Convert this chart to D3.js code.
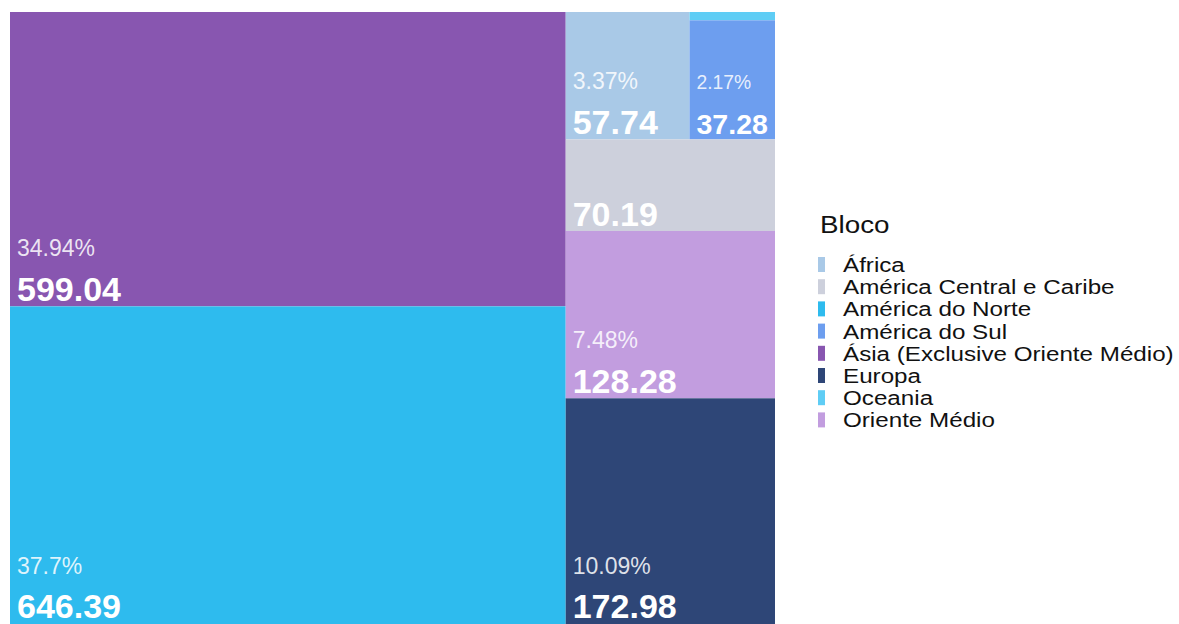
<!DOCTYPE html>
<html>
<head>
<meta charset="utf-8">
<script src="https://cdn.jsdelivr.net/npm/d3@7"></script>
<style>
  body { margin: 0; background: #fff; }
  text { font-family: "Liberation Sans", Arial, sans-serif; }
</style>
</head>
<body>
<svg id="chart" width="1179" height="624"></svg>
<script>
const blocos = [
  'África',
  'América Central e Caribe',
  'América do Norte',
  'América do Sul',
  'Ásia (Exclusive Oriente Médio)',
  'Europa',
  'Oceania',
  'Oriente Médio'
];
const valores = [57.74, 70.19, 646.39, 37.28, 599.04, 172.98, 2.6, 128.28];
const cores = ['#a9c9e7', '#cdd0dc', '#2ebbee', '#6d9eef', '#8856b0', '#2e4677', '#5fcdf5', '#c29ddf'];

// how the tiles were split (x = side by side, y = stacked)
const arranjo = {
  dir: 'x', children: [
    { dir: 'y', children: ['Ásia (Exclusive Oriente Médio)', 'América do Norte'] },
    { dir: 'y', children: [
      { dir: 'x', children: ['África', { dir: 'y', children: ['Oceania', 'América do Sul'] }] },
      'América Central e Caribe',
      'Oriente Médio',
      'Europa'
    ] }
  ]
};
const semPct = ['América Central e Caribe'];

(function () {
  const svg = d3.select('#chart');
  const left = 10, top = 12, w = 765, h = 612;

  const total = d3.sum(valores);
  const color = d3.scaleOrdinal().domain(blocos).range(cores);

  const root = d3.hierarchy(arranjo, d =>
      d.children ? d.children.map(c => (typeof c === 'string' ? { name: c } : c)) : null)
    .sum(d => (d.name ? valores[blocos.indexOf(d.name)] : 0));

  const tile = (node, x0, y0, x1, y1) =>
    (node.data.dir === 'x' ? d3.treemapDice : d3.treemapSlice)(node, x0, y0, x1, y1);

  d3.treemap().size([w, h]).tile(tile)(root);

  const g = svg.append('g').attr('transform', `translate(${left},${top})`);

  const cell = g.selectAll('g')
    .data(root.leaves())
    .enter()
    .append('g');

  cell.append('rect')
    .attr('x', d => d.x0)
    .attr('y', d => d.y0)
    .attr('width', d => d.x1 - d.x0)
    .attr('height', d => d.y1 - d.y0)
    .attr('fill', d => color(d.data.name));

  const pad = 7;
  cell.filter(d => d.y1 - d.y0 > 40).each(function (d) {
    const c = d3.select(this);
    const v = c.append('text')
      .attr('x', d.x0 + pad)
      .attr('y', Math.min(d.y1 - 5, h - 6))
      .attr('fill', '#fff')
      .attr('font-weight', 'bold')
      .attr('font-size', 34)
      .text(d.value.toFixed(2));
    const tw = v.node().getComputedTextLength();
    const k = Math.min(1, (d.x1 - d.x0 - 2 * pad) / tw);
    v.attr('font-size', 34 * k);
    if (semPct.indexOf(d.data.name) < 0) {
      c.append('text')
        .attr('x', d.x0 + pad)
        .attr('y', d.y1 - 50)
        .attr('fill', '#fff')
        .attr('fill-opacity', 0.85)
        .attr('font-size', 23 * k)
        .text(+(d.value / total * 100).toFixed(2) + '%');
    }
  });

  // legend (text in the original is drawn wider than normal)
  const sx = 1.21;
  const leg = svg.append('g').attr('transform', 'translate(818,0)');
  leg.append('text')
    .attr('transform', `translate(2,233) scale(${sx},1)`)
    .attr('font-size', 23)
    .attr('fill', '#111')
    .text('Bloco');

  const item = leg.selectAll('g.item')
    .data(blocos)
    .enter()
    .append('g')
    .attr('class', 'item')
    .attr('transform', (d, i) => `translate(0,${272 + i * 22.2})`);

  item.append('rect')
    .attr('x', 0)
    .attr('y', -15)
    .attr('width', 7)
    .attr('height', 15)
    .attr('fill', d => color(d));

  item.append('text')
    .attr('transform', `translate(25,0) scale(${sx},1)`)
    .attr('font-size', 20)
    .attr('fill', '#111')
    .text(d => d);
})();
</script>
</body>
</html>
